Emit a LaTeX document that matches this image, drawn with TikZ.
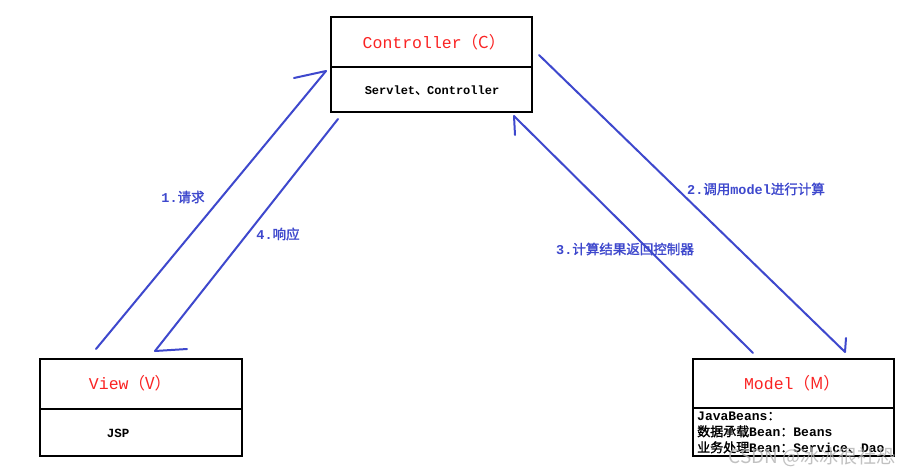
\documentclass[tikz,border=0pt]{standalone}
\usepackage{fontspec}
\setmainfont{Liberation Mono}
\newfontfamily\cjk[AutoFakeBold=1.6]{Noto Sans CJK SC}
\newfontfamily\lmono{Liberation Mono}
\definecolor{arrowblue}{RGB}{62,72,205}
\definecolor{titlered}{RGB}{250,35,35}
\tikzset{
  box/.style={draw=black, line width=2pt, inner sep=0pt},
  divider/.style={draw=black, line width=1.8pt},
  titletext/.style={text=titlered, font=\fontsize{16.5}{18}\selectfont\lmono},
  subtext/.style={text=black, font=\fontsize{12}{13}\selectfont\lmono\bfseries},
  lbl/.style={text=arrowblue, font=\fontsize{13.5}{15}\selectfont\bfseries},
  flow/.style={draw=arrowblue, line width=2pt, line cap=round},
  barb/.style={draw=arrowblue, line width=2pt, line cap=round},
}
\newcommand{\zh}[1]{{\cjk #1}}
\begin{document}
\begin{tikzpicture}[x=1pt,y=-1pt]
\useasboundingbox (0,0) rectangle (915,472);
\fill[white] (0,0) rectangle (915,472);

% boxes
\node[box, minimum width=201pt, minimum height=95pt] (ctrl) at (431.5,64.5) {};
\draw[divider] (331,67) -- (532,67);
\node[titletext] (ctrlT) at (434,42) {Controller\zh{（C）}};
\node[subtext] (ctrlS) at (432,90) {Servlet\zh{、}Controller};

\node[box, minimum width=202pt, minimum height=97pt] (view) at (141,407.5) {};
\draw[divider] (40,409) -- (242,409);
\node[titletext] (viewT) at (130,383) {View\zh{（V）}};
\node[subtext, font=\fontsize{12.5}{14}\selectfont\rmfamily\bfseries] (viewS) at (118,433) {JSP};

\node[box, minimum width=201pt, minimum height=97pt] (model) at (793.5,407.5) {};
\draw[divider] (693,408) -- (894,408);
\node[titletext] (modelT) at (792,383) {Model\zh{（M）}};
\begin{scope}
\clip (694,409) rectangle (893,455);
\node[anchor=west, text=black, font=\fontsize{13}{16}\selectfont\lmono\bfseries, align=left, inner sep=0pt] (modelS) at (697,432.5)
 {JavaBeans\zh{：}\\
  \zh{数据承载}Bean\zh{：}Beans\\
  \zh{业务处理}Bean\zh{：}Service\zh{、}Dao};
\end{scope}

% arrow endpoints
\coordinate (a1s) at (96,349);
\coordinate (a1e) at (326,71);
\coordinate (a1b) at (294,78);
\coordinate (a4s) at (338,119);
\coordinate (a4e) at (155,351);
\coordinate (a4b) at (187,349);
\coordinate (a2s) at (539,55);
\coordinate (a2e) at (845,352);
\coordinate (a2b) at (846,338);
\coordinate (a3s) at (753,353);
\coordinate (a3e) at (514,116);
\coordinate (a3b) at (515,135);

\draw[flow] (a1s) -- (a1e);
\draw[barb] (a1b) -- (a1e);
\draw[flow] (a4s) -- (a4e);
\draw[barb] (a4b) -- (a4e);
\draw[flow] (a2s) -- (a2e);
\draw[barb] (a2b) -- (a2e);
\draw[flow] (a3s) -- (a3e);
\draw[barb] (a3b) -- (a3e);

% labels
\node[lbl] (l1) at (183,197) {1.\zh{请求}};
\node[lbl] (l4) at (278,234) {4.\zh{响应}};
\node[lbl] (l2) at (756,189) {2.\zh{调用}model\zh{进行计算}};
\node[lbl] (l3) at (625,249) {3.\zh{计算结果返回控制器}};

% watermark
\node[text=black!30, opacity=0.8, font=\fontsize{19}{21}\selectfont\cjk] (wm) at (812,457) {CSDN @冰冰很社恐};
\end{tikzpicture}
\end{document}
